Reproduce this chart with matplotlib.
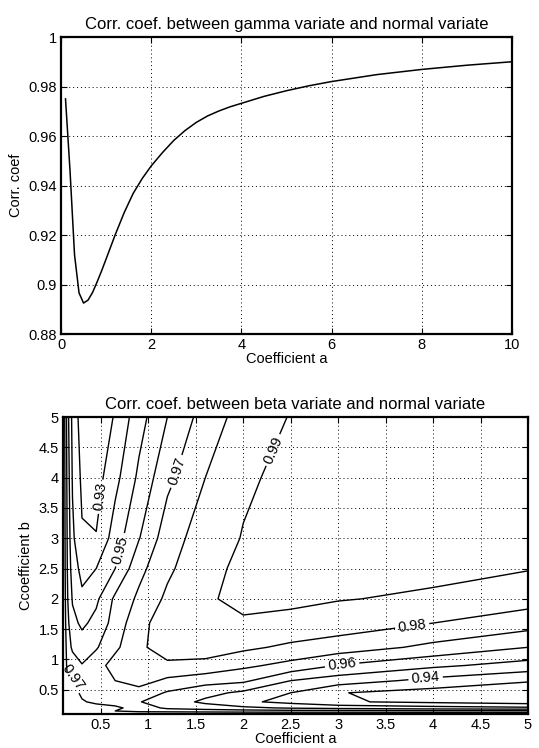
import numpy as np
import matplotlib
matplotlib.use("Agg")
import matplotlib.pyplot as plt

plt.rcParams['font.family'] = ['Liberation Sans', 'DejaVu Sans']

# ---- top panel data: gamma variate ----
gamma_a = [0.1, 0.2, 0.3, 0.4, 0.5, 0.6, 0.7, 0.8, 0.9, 1.0, 1.2, 1.4, 1.6, 1.8,
           2.0, 2.25, 2.5, 2.75, 3.0, 3.25, 3.5, 3.75, 4.0, 4.5, 5.0, 5.5, 6.0,
           7.0, 8.0, 9.0, 10.0]
gamma_corr = [0.975, 0.946, 0.912, 0.8966, 0.8925, 0.8937, 0.8968, 0.901, 0.9055,
              0.9103, 0.9200, 0.9290, 0.9368, 0.9428, 0.9479, 0.9533, 0.9582,
              0.9622, 0.9655, 0.9681, 0.9701, 0.9718, 0.9732, 0.9760, 0.9783,
              0.9803, 0.9820, 0.9848, 0.9869, 0.9886, 0.9900]

# ---- bottom panel data: beta variate ----
beta_a = [0.1, 0.15, 0.2, 0.3, 0.45, 0.65, 0.9, 1.2, 1.6, 2.0, 2.5, 3.0, 4.0, 5.0]
beta_b = [0.1, 0.15, 0.2, 0.3, 0.45, 0.65, 0.9, 1.2, 1.6, 2.0, 2.5, 3.0, 4.0, 5.0]
beta_corr = [
    [0.975, 0.975, 0.975, 0.976, 0.977, 0.978, 0.979, 0.980, 0.980, 0.980, 0.980, 0.980, 0.980, 0.980],
    [0.975, 0.973, 0.974, 0.974, 0.973, 0.970, 0.967, 0.966, 0.965, 0.964, 0.963, 0.963, 0.962, 0.962],
    [0.975, 0.974, 0.975, 0.974, 0.974, 0.972, 0.966, 0.958, 0.955, 0.952, 0.949, 0.947, 0.944, 0.942],
    [0.976, 0.974, 0.974, 0.971, 0.968, 0.966, 0.9605, 0.955, 0.948, 0.942, 0.937, 0.931, 0.928, 0.925],
    [0.977, 0.973, 0.974, 0.968, 0.967, 0.967, 0.966, 0.959, 0.953, 0.948, 0.940, 0.9305, 0.926, 0.922],
    [0.978, 0.970, 0.972, 0.966, 0.967, 0.970, 0.974, 0.968, 0.964, 0.962, 0.950, 0.945, 0.937, 0.931],
    [0.979, 0.967, 0.966, 0.9605, 0.966, 0.974, 0.978, 0.978, 0.977, 0.972, 0.967, 0.9595, 0.952, 0.946],
    [0.980, 0.965, 0.958, 0.955, 0.959, 0.968, 0.978, 0.985, 0.985, 0.982, 0.978, 0.9755, 0.9675, 0.960],
    [0.980, 0.962, 0.953, 0.948, 0.953, 0.964, 0.977, 0.985, 0.989, 0.9895, 0.988, 0.985, 0.980, 0.9745],
    [0.980, 0.960, 0.949, 0.942, 0.948, 0.962, 0.972, 0.982, 0.9895, 0.991, 0.9915, 0.9905, 0.9885, 0.984],
    [0.980, 0.958, 0.945, 0.937, 0.940, 0.950, 0.967, 0.978, 0.988, 0.9915, 0.993, 0.993, 0.9925, 0.9905],
    [0.980, 0.957, 0.942, 0.931, 0.9305, 0.945, 0.9595, 0.9755, 0.985, 0.9905, 0.993, 0.994, 0.9935, 0.993],
    [0.980, 0.955, 0.939, 0.928, 0.926, 0.937, 0.952, 0.9675, 0.980, 0.9885, 0.9925, 0.9935, 0.995, 0.995],
    [0.980, 0.953, 0.937, 0.925, 0.922, 0.931, 0.946, 0.960, 0.9745, 0.984, 0.9905, 0.993, 0.995, 0.996],
]
contour_levels = [0.93, 0.94, 0.95, 0.96, 0.97, 0.98, 0.99]
label_spots = [(0.47, 3.69), (0.70, 2.81), (1.3, 4.1), (2.32, 4.45),
               (3.78, 1.55), (3.04, 0.93), (3.92, 0.71), (0.24, 0.74)]

top_xticks = [0, 2, 4, 6, 8, 10]
top_yticks = [0.88, 0.9, 0.92, 0.94, 0.96, 0.98, 1.0]
top_yticklabels = ['0.88', '0.9', '0.92', '0.94', '0.96', '0.98', '1']
bot_ticks = [0.5, 1, 1.5, 2, 2.5, 3, 3.5, 4, 4.5, 5]
bot_ticklabels = ['0.5', '1', '1.5', '2', '2.5', '3', '3.5', '4', '4.5', '5']

W, H = 539, 748
fig = plt.figure(figsize=(W / 100, H / 100), dpi=100)
fs = 10.5
tfs = 12


def style(ax):
    for s in ax.spines.values():
        s.set_linewidth(1.6)
        s.set_color('black')
    ax.tick_params(direction='in', length=4, width=0.8, top=True, right=True,
                   labelsize=fs, pad=3, colors='black')
    ax.grid(True, linestyle=(0, (1, 3)), color='black', linewidth=0.7)
    ax.set_axisbelow(False)


ax1 = fig.add_axes([61 / W, 1 - 334 / H, 451 / W, 297 / H])
ax1.plot(gamma_a, gamma_corr, color='black', linewidth=1.1)
ax1.set_xlim(0, 10)
ax1.set_ylim(0.88, 1.0)
ax1.set_xticks(top_xticks)
ax1.set_yticks(top_yticks)
ax1.set_yticklabels(top_yticklabels)
style(ax1)
ax1.set_title('Corr. coef. between gamma variate and normal variate', fontsize=tfs, pad=6)
ax1.set_xlabel('Coefficient a', fontsize=fs, labelpad=0)
ax1.set_ylabel('Corr. coef', fontsize=fs, labelpad=4)

ax2 = fig.add_axes([63 / W, 1 - 714 / H, 465 / W, 297 / H])
A, B = np.meshgrid(beta_a, beta_b)
cs = ax2.contour(A, B, np.array(beta_corr), levels=contour_levels, colors='black', linewidths=1.0)
ax2.clabel(cs, fmt='%.2f', fontsize=fs, inline=True, inline_spacing=3, manual=label_spots)
ax2.set_xlim(0.1, 5)
ax2.set_ylim(0.1, 5)
ax2.set_xticks(bot_ticks)
ax2.set_xticklabels(bot_ticklabels)
ax2.set_yticks(bot_ticks)
ax2.set_yticklabels(bot_ticklabels)
style(ax2)
ax2.set_title('Corr. coef. between beta variate and normal variate', fontsize=tfs, pad=6)
ax2.set_xlabel('Coefficient a', fontsize=fs, labelpad=0)
ax2.set_ylabel('Ccoefficient b', fontsize=fs, labelpad=4)

fig.savefig('out.png', dpi=100)
